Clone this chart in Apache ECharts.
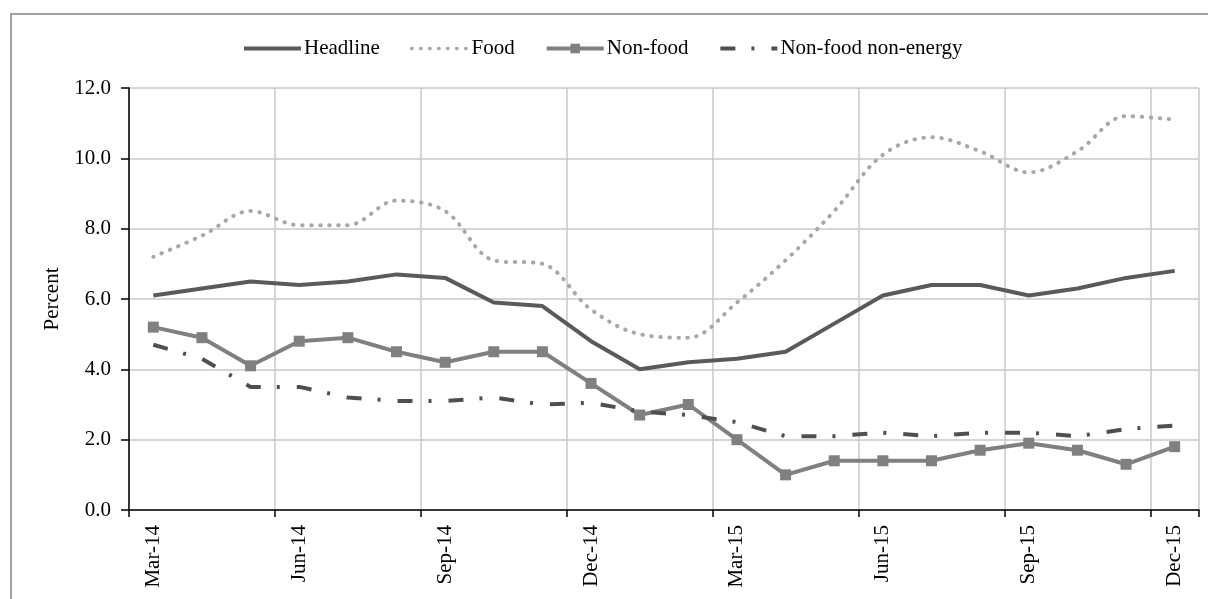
<!DOCTYPE html>
<html><head><meta charset="utf-8">
<script src="https://cdn.jsdelivr.net/npm/echarts@6/dist/echarts.min.js"></script>
<style>html,body{margin:0;padding:0;background:#fff}#c{width:1208px;height:599px}</style>
</head><body><div id="c"></div>
<script>
const categories = ['Mar-14','Apr-14','May-14','Jun-14','Jul-14','Aug-14','Sep-14','Oct-14','Nov-14','Dec-14','Jan-15','Feb-15','Mar-15','Apr-15','May-15','Jun-15','Jul-15','Aug-15','Sep-15','Oct-15','Nov-15','Dec-15'];
const headline = [6.1,6.3,6.5,6.4,6.5,6.7,6.6,5.9,5.8,4.8,4.0,4.2,4.3,4.5,5.3,6.1,6.4,6.4,6.1,6.3,6.6,6.8];
const food = [7.2,7.8,8.5,8.1,8.1,8.8,8.5,7.1,7.0,5.7,5.0,4.9,5.9,7.1,8.5,10.1,10.6,10.2,9.6,10.2,11.2,11.1];
const nonFood = [5.2,4.9,4.1,4.8,4.9,4.5,4.2,4.5,4.5,3.6,2.7,3.0,2.0,1.0,1.4,1.4,1.4,1.7,1.9,1.7,1.3,1.8];
const nonFoodNonEnergy = [4.7,4.3,3.5,3.5,3.2,3.1,3.1,3.2,3.0,3.05,2.8,2.7,2.5,2.1,2.1,2.2,2.1,2.2,2.2,2.1,2.3,2.4];
const seriesNames = ['Headline','Food','Non-food','Non-food non-energy'];

const FONT = '"Liberation Serif", "Times New Roman", serif';
const C_HEAD = '#5a5a5a', C_FOOD = '#a8a8a8', C_NF = '#808080', C_NFNE = '#4f4f4f';
const DOT = [0.5, 8.5], DASHDOT = [15, 16, 3, 17];
const chart = echarts.init(document.getElementById('c'), null, {renderer: 'canvas'});
chart.setOption({
  animation: false,
  backgroundColor: '#fff',
  textStyle: {fontFamily: FONT},
  graphic: [{
    type: 'rect', silent: true, z: -1,
    shape: {x: 11, y: 14, width: 1400, height: 800},
    style: {fill: 'none', stroke: '#a0a0a0', lineWidth: 2}
  }],
  legend: {
    left: 237, top: 33,
    itemWidth: 57, itemHeight: 12, itemGap: 30,
    textStyle: {fontFamily: FONT, fontSize: 21, color: '#000', padding: [0, 0, 0, -2]},
    data: [
      {name: seriesNames[0], itemStyle: {opacity: 0}, lineStyle: {width: 4, color: C_HEAD}},
      {name: seriesNames[1], itemStyle: {opacity: 0}, lineStyle: {width: 3.5, color: C_FOOD, type: DOT, cap: 'round'}},
      {name: seriesNames[2], lineStyle: {width: 4, color: C_NF}},
      {name: seriesNames[3], itemStyle: {opacity: 0}, lineStyle: {width: 4, color: C_NFNE, type: DASHDOT}}
    ]
  },
  grid: {left: 129, right: 9, top: 88, bottom: 89, containLabel: false},
  xAxis: {
    type: 'category', data: categories, boundaryGap: true,
    axisLine: {show: true, lineStyle: {color: '#000', width: 1.5}},
    axisTick: {show: true, interval: 2, length: 7, lineStyle: {color: '#000', width: 1.5}},
    axisLabel: {interval: 2, rotate: 90, margin: 15, color: '#000', fontFamily: FONT, fontSize: 21},
    splitLine: {show: true, interval: 2, lineStyle: {color: '#c8c8c8', width: 1.5}}
  },
  yAxis: {
    type: 'value', min: 0, max: 12, interval: 2,
    name: 'Percent', nameLocation: 'middle', nameGap: 64, nameRotate: 90,
    nameTextStyle: {fontFamily: FONT, fontSize: 21, color: '#000'},
    axisLine: {show: true, lineStyle: {color: '#000', width: 1.5}},
    axisTick: {show: true, length: 8, lineStyle: {color: '#000', width: 1.5}},
    axisLabel: {formatter: v => v.toFixed(1), margin: 18, color: '#000', fontFamily: FONT, fontSize: 21},
    splitLine: {show: true, lineStyle: {color: '#c8c8c8', width: 1.5}}
  },
  series: [
    {name: seriesNames[0], type: 'line', data: headline, symbol: 'none', showSymbol: false,
     lineStyle: {color: C_HEAD, width: 4}, itemStyle: {color: C_HEAD}, z: 4},
    {name: seriesNames[1], type: 'line', data: food, symbol: 'none', showSymbol: false, smooth: 0.35,
     lineStyle: {color: C_FOOD, width: 4, type: DOT, cap: 'round'}, itemStyle: {color: C_FOOD}, z: 2},
    {name: seriesNames[2], type: 'line', data: nonFood, symbol: 'rect', symbolSize: 11, showSymbol: true,
     lineStyle: {color: C_NF, width: 4}, itemStyle: {color: C_NF}, z: 3},
    {name: seriesNames[3], type: 'line', data: nonFoodNonEnergy, symbol: 'none', showSymbol: false,
     lineStyle: {color: C_NFNE, width: 4, type: DASHDOT}, itemStyle: {color: C_NFNE}, z: 3}
  ]
});
</script>
</body></html>
